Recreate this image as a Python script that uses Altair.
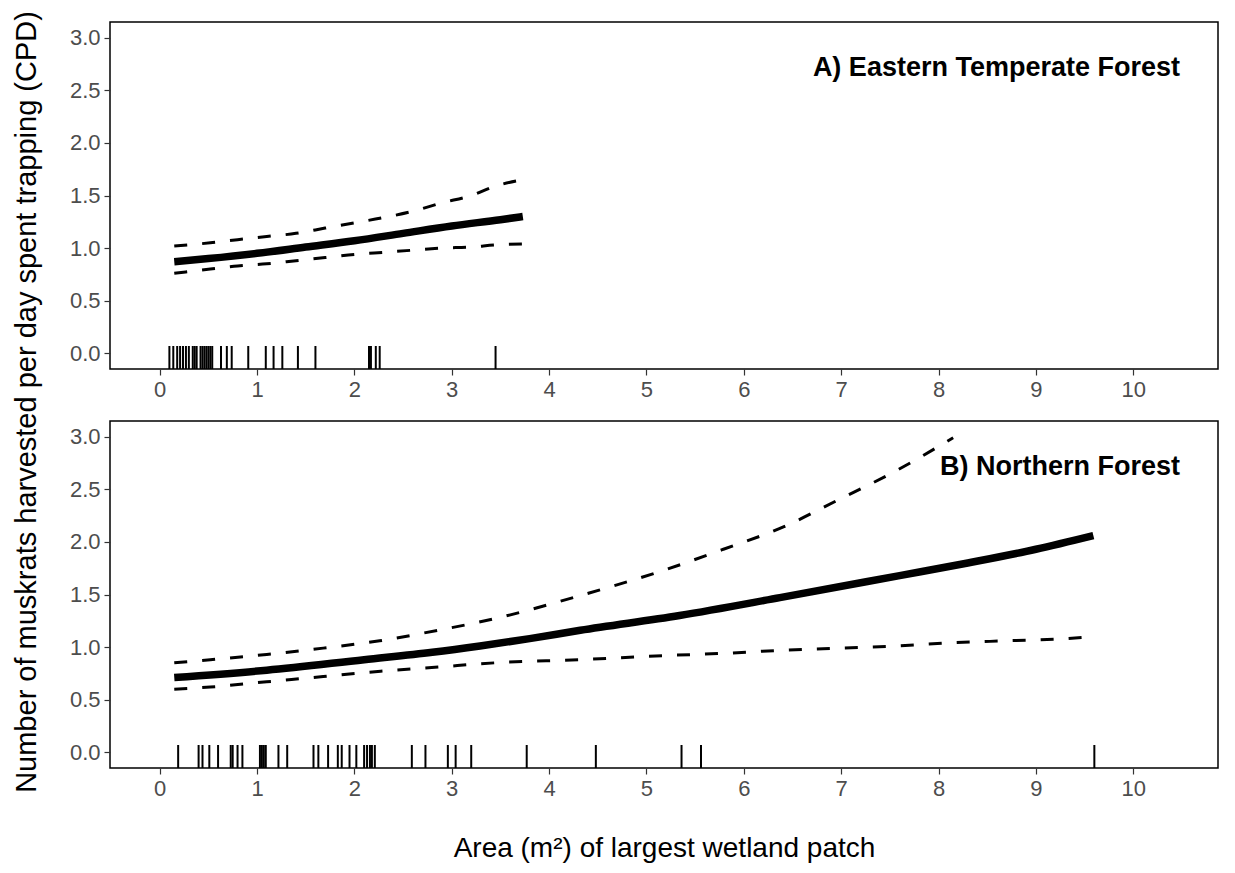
import altair as alt
import pandas as pd

# ---------------- Panel A: Eastern Temperate Forest ----------------
a_fit_x = [0.15, 0.5, 1.0, 1.5, 2.0, 2.5, 3.0, 3.5, 3.73]
a_fit_y = [0.87, 0.90, 0.95, 1.01, 1.07, 1.14, 1.21, 1.27, 1.30]
a_ci_x = [0.15, 0.52, 0.8, 1.1, 1.4, 1.7, 2.0, 2.3, 2.6, 2.9, 3.2, 3.45, 3.73]
a_upper_y = [1.02, 1.05, 1.08, 1.11, 1.14, 1.19, 1.24, 1.29, 1.35, 1.43, 1.50, 1.59, 1.65]
a_lower_y = [0.76, 0.80, 0.83, 0.85, 0.88, 0.91, 0.94, 0.96, 0.98, 1.00, 1.01, 1.03, 1.04]
a_rug = [0.10, 0.14, 0.18, 0.21, 0.24, 0.27, 0.30, 0.34, 0.36, 0.38, 0.42, 0.44,
         0.46, 0.48, 0.50, 0.52, 0.54, 0.63, 0.69, 0.74, 0.91, 1.09, 1.17, 1.26,
         1.42, 1.60, 2.15, 2.17, 2.22, 2.26, 3.45]

# ---------------- Panel B: Northern Forest ----------------
b_fit_x = [0.15, 1.1, 2.1, 2.8, 3.29, 3.8, 4.32, 5.34, 6.37, 7.6, 8.3, 9.0, 9.59]
b_fit_y = [0.71, 0.78, 0.88, 0.95, 1.01, 1.08, 1.16, 1.30, 1.47, 1.68, 1.80, 1.93, 2.06]
b_upper_x = [0.15, 0.52, 1.1, 1.68, 2.26, 2.86, 3.44, 4.32, 5.21, 5.79, 6.40, 6.97, 7.55, 8.15]
b_upper_y = [0.85, 0.88, 0.93, 0.99, 1.06, 1.16, 1.27, 1.49, 1.74, 1.93, 2.14, 2.40, 2.67, 2.99]
b_lower_x = [0.15, 0.52, 1.1, 1.68, 2.27, 2.86, 3.44, 4.32, 5.21, 5.79, 6.40, 6.97,
             7.55, 8.12, 8.71, 9.30, 9.59]
b_lower_y = [0.60, 0.62, 0.67, 0.72, 0.77, 0.81, 0.85, 0.88, 0.92, 0.94, 0.97, 0.99,
             1.01, 1.04, 1.06, 1.08, 1.10]
b_rug = [0.19, 0.40, 0.44, 0.51, 0.60, 0.73, 0.75, 0.80, 0.85, 1.03, 1.05, 1.07, 1.09,
         1.22, 1.31, 1.58, 1.63, 1.73, 1.83, 1.87, 1.95, 2.02, 2.10, 2.13, 2.16, 2.18,
         2.21, 2.59, 2.73, 2.96, 3.04, 3.20, 3.77, 4.48, 5.36, 5.56, 9.60]

x_ticks = [0, 1, 2, 3, 4, 5, 6, 7, 8, 9, 10]
y_ticks = [0.0, 0.5, 1.0, 1.5, 2.0, 2.5, 3.0]

x_title = "Area (m²) of largest wetland patch"
y_title = "Number of muskrats harvested per day spent trapping (CPD)"

PW, PH = 1108, 347
FONT = "Liberation Sans"

x_scale = alt.Scale(domain=[-0.51, 10.87], nice=False, zero=False)
y_scale = alt.Scale(domain=[-0.15, 3.15], nice=False, zero=False)


def panel(fx, fy, ux, uy, lx, ly, rug, label, with_title):
    if with_title:
        xax = alt.Axis(values=x_ticks, title=x_title, titlePadding=35)
    else:
        xax = alt.Axis(values=x_ticks, title=None)
    yax = alt.Axis(values=y_ticks, format=".1f", title=None)

    def line(xs, ys, dashed):
        df = pd.DataFrame({"x": xs, "y": ys})
        if dashed:
            m = alt.Chart(df).mark_line(color="black", strokeWidth=3,
                                        strokeDash=[13, 15], interpolate="monotone")
        else:
            m = alt.Chart(df).mark_line(color="black", strokeWidth=7.5,
                                        interpolate="monotone")
        return m.encode(x=alt.X("x:Q", scale=x_scale, axis=xax),
                        y=alt.Y("y:Q", scale=y_scale, axis=yax))

    rug_chart = alt.Chart(pd.DataFrame({"x": rug})).mark_rule(
        color="black", strokeWidth=2
    ).encode(x=alt.X("x:Q", scale=x_scale, axis=xax),
             y=alt.value(PH - 23), y2=alt.value(PH))

    txt = alt.Chart(pd.DataFrame({"label": [label]})).mark_text(
        align="right", baseline="middle", font=FONT, fontSize=27,
        fontWeight="bold", color="black"
    ).encode(text="label:N", x=alt.value(1070), y=alt.value(46))

    return alt.layer(
        rug_chart,
        line(ux, uy, True),
        line(lx, ly, True),
        line(fx, fy, False),
        txt,
    ).properties(width=PW, height=PH)


top = panel(a_fit_x, a_fit_y, a_ci_x, a_upper_y, a_ci_x, a_lower_y, a_rug,
            "A) Eastern Temperate Forest", False)
bottom = panel(b_fit_x, b_fit_y, b_upper_x, b_upper_y, b_lower_x, b_lower_y, b_rug,
               "B) Northern Forest", True)

chart = alt.vconcat(top, bottom, spacing=19).properties(
    title=alt.TitleParams(text=y_title, orient="left", anchor="middle",
                          fontSize=29, fontWeight="normal", font=FONT,
                          color="black", offset=27, dx=40),
    padding={"left": 4, "top": 3, "right": 5, "bottom": 5},
).configure_view(
    stroke="black", strokeWidth=1.5
).configure_axis(
    grid=False, domain=False,
    labelFont=FONT, labelFontSize=22, labelColor="#4D4D4D", labelPadding=4,
    tickColor="#333333", tickSize=6, tickWidth=1.2,
    titleFont=FONT, titleFontSize=28, titleFontWeight="normal", titleColor="black",
)

chart.save("out.html", embed_options={"renderer": "svg", "actions": False})
